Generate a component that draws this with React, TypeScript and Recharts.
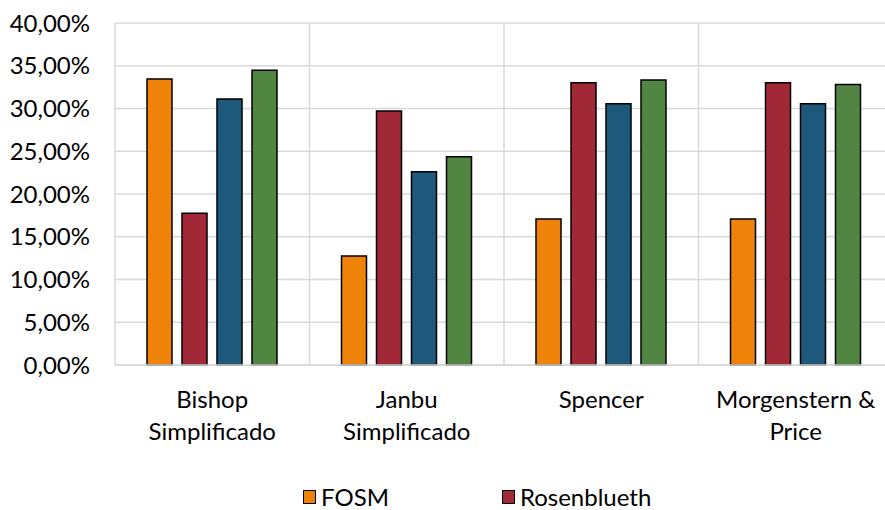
import React from 'react'
import { BarChart, Bar, XAxis, YAxis, CartesianGrid } from 'recharts'

// métodos de equilíbrio limite (quebra de linha nos rótulos)
const categories = ['Bishop\nSimplificado', 'Janbu\nSimplificado', 'Spencer', 'Morgenstern &\nPrice']

// probabilidade de ruptura (%)
const fosm = [33.45, 12.75, 17.08, 17.08]
const rosenblueth = [17.74, 29.7, 33.02, 33.02]
const serie3 = [31.1, 22.6, 30.56, 30.56]
const serie4 = [34.47, 24.36, 33.33, 32.8]

const yTicks = [0, 5, 10, 15, 20, 25, 30, 35, 40]

const legendItems = [
  { name: 'FOSM', color: '#EF8209' },
  { name: 'Rosenblueth', color: '#A02837' },
]

const data = categories.map((c, i) => ({
  metodo: c,
  fosm: fosm[i],
  rosenblueth: rosenblueth[i],
  serie3: serie3[i],
  serie4: serie4[i],
}))

const FONT = 'Lato, "DejaVu Sans", sans-serif'
const GRID = '#d9d9d9'

const fmtPct = (v: number) => v.toFixed(2).replace('.', ',') + '%'

const CategoryTick = (props: any) => {
  const { x, y, payload } = props
  const lines = String(payload.value).split('\n')
  return (
    <text x={x} y={y} textAnchor="middle" fill="#000" fontFamily={FONT} fontSize={24}>
      {lines.map((l, i) => (
        <tspan key={i} x={x} dy={i === 0 ? 43 : 32}>
          {l}
        </tspan>
      ))}
    </text>
  )
}

export default function App() {
  const n = categories.length
  return (
    <div
      style={{
        position: 'fixed',
        left: 0,
        top: 0,
        width: 885,
        height: 510,
        overflow: 'hidden',
        background: '#fff',
        fontFamily: FONT,
      }}
    >
      <BarChart
        width={900}
        height={510}
        data={data}
        margin={{ top: 23, right: 7, bottom: 65, left: 0 }}
        barSize={25}
        barGap={10}
      >
        <CartesianGrid
          stroke={GRID}
          strokeWidth={1.5}
          verticalCoordinatesGenerator={({ offset }: any) =>
            Array.from({ length: n + 1 }, (_, i) => offset.left + (offset.width * i) / n)
          }
        />
        <XAxis
          dataKey="metodo"
          height={80}
          tickLine={false}
          tickSize={0}
          tickMargin={0}
          axisLine={{ stroke: GRID, strokeWidth: 1.5 }}
          tick={<CategoryTick />}
          interval={0}
        />
        <YAxis
          width={115}
          domain={[0, 40]}
          ticks={yTicks}
          tickFormatter={fmtPct}
          axisLine={false}
          tickLine={false}
          tickSize={0}
          tickMargin={25}
          tick={{ fill: '#000', fontSize: 24, fontFamily: FONT }}
        />
        <Bar dataKey="fosm" name="FOSM" fill="#EF8209" stroke="#000" strokeWidth={1.5} isAnimationActive={false} />
        <Bar dataKey="rosenblueth" name="Rosenblueth" fill="#A02837" stroke="#000" strokeWidth={1.5} isAnimationActive={false} />
        <Bar dataKey="serie3" fill="#1E587A" stroke="#000" strokeWidth={1.5} isAnimationActive={false} />
        <Bar dataKey="serie4" fill="#508642" stroke="#000" strokeWidth={1.5} isAnimationActive={false} />
      </BarChart>

      <div
        style={{
          position: 'absolute',
          left: 303,
          top: 482,
          display: 'flex',
          alignItems: 'center',
          fontSize: 24,
          lineHeight: '30px',
          color: '#000',
        }}
      >
        {legendItems.map((item, i) => (
          <div key={item.name} style={{ display: 'flex', alignItems: 'center', marginRight: i === 0 ? 113 : 0 }}>
            <span
              style={{
                display: 'inline-block',
                width: 11,
                height: 12,
                background: item.color,
                border: '1.5px solid #000',
                marginRight: 5,
              }}
            />
            <span>{item.name}</span>
          </div>
        ))}
      </div>
    </div>
  )
}
